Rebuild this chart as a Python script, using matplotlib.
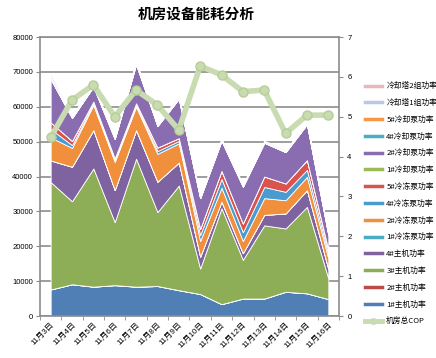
import matplotlib
matplotlib.use('Agg')
import matplotlib.pyplot as plt
from matplotlib.lines import Line2D
import numpy as np

plt.rcParams['font.family'] = ['Liberation Sans', 'Noto Sans CJK SC', 'DejaVu Sans']

dates = ['11月3日', '11月4日', '11月5日', '11月6日', '11月7日', '11月8日', '11月9日',
         '11月10日', '11月11日', '11月12日', '11月13日', '11月14日', '11月15日', '11月16日']

# power of each device, stacked bottom to top
chiller1 = [7600, 9100, 8400, 8850, 8400, 8600, 7400, 6300, 3400, 5000, 5000, 6950, 6500, 4850]
chiller2 = [0] * 14
chiller3 = [30800, 23800, 33900, 18050, 36700, 21200, 30000, 7300, 27500, 11100, 21000, 18150, 24800, 5950]
chiller4 = [6200, 9900, 11000, 9200, 8200, 8700, 6600, 3400, 1900, 1900, 3000, 4300, 4800, 2700]
chw_pump1 = [0] * 14
chw_pump2 = [6600, 5400, 7200, 8100, 6700, 8000, 5500, 4500, 4000, 3500, 4800, 3800, 3800, 3000]
chw_pump4 = [2400, 800, 500, 500, 500, 800, 700, 1700, 2500, 2500, 3200, 2400, 2000, 1200]
chw_pump5 = [1900, 1200, 500, 500, 500, 1000, 800, 1800, 2300, 2500, 3000, 2400, 2800, 1300]
cw_pump1 = [0] * 14
cw_pump2 = [12500, 6600, 4300, 5600, 11200, 6200, 11300, 8800, 8700, 10600, 9700, 9000, 10300, 4300]
cw_pump4 = [0] * 14
cw_pump5 = [0] * 14
tower1 = [700, 400, 350, 350, 500, 400, 450, 350, 300, 350, 300, 300, 350, 350]
tower2 = [700, 400, 350, 350, 500, 400, 450, 350, 300, 350, 300, 300, 350, 350]

cop = [4.48, 5.42, 5.80, 5.00, 5.67, 5.29, 4.67, 6.27, 6.05, 5.63, 5.67, 4.58, 5.04, 5.04]

layers = [chiller1, chiller2, chiller3, chiller4, chw_pump1, chw_pump2, chw_pump4, chw_pump5,
          cw_pump1, cw_pump2, cw_pump4, cw_pump5, tower1, tower2]
names = ['1#主机功率', '2#主机功率', '3#主机功率', '4#主机功率', '1#冷冻泵功率', '2#冷冻泵功率',
         '4#冷冻泵功率', '5#冷冻泵功率', '1#冷却泵功率', '2#冷却泵功率', '4#冷却泵功率',
         '5#冷却泵功率', '冷却塔1组功率', '冷却塔2组功率']
colors = ['#4f7fb5', '#be4b48', '#8ead57', '#7f63a1', '#4aacc5', '#f08f3c',
          '#4a9bd0', '#d9534f', '#9bbb59', '#8a6cb0', '#4bacc6', '#f79646', '#b9c9e3', '#e6b9b8']

grey = '#8c8c8c'

fig = plt.figure(figsize=(4.36, 3.58), dpi=100)
ax = fig.add_axes([0.0917, 0.1173, 0.6858, 0.7793])
x = np.arange(len(dates))

ax.stackplot(x, *layers, colors=colors, edgecolor='white', linewidth=0.6)
ax.set_xlim(-0.5, len(dates) - 0.5)
ax.set_ylim(0, 80000)
ax.set_yticks(range(0, 80001, 10000))
ax.yaxis.grid(True, color=grey, linewidth=1.2)
ax.set_axisbelow(True)
ax.tick_params(axis='y', labelsize=5.5, length=3, color=grey, pad=2)
ax.set_xticks(x)
ax.set_xticklabels(dates, rotation=45, ha='right', rotation_mode='anchor', fontsize=5.8)
ax.tick_params(axis='x', length=0, pad=4)
ax.set_xticks(np.arange(-0.5, len(dates)), minor=True)
ax.tick_params(axis='x', which='minor', length=3, color=grey)
for s in ax.spines.values():
    s.set_color(grey)
    s.set_linewidth(1.2)

ax2 = ax.twinx()
ax2.plot(x, cop, color='#c9dbb0', linewidth=4, marker='o', markersize=6.5,
         markerfacecolor='#c9dbb0', markeredgecolor='#b7cd98')
ax2.set_ylim(0, 7)
ax2.set_yticks(range(0, 8))
ax2.tick_params(axis='y', labelsize=5.5, length=3, color=grey, pad=3)
for s in ax2.spines.values():
    s.set_visible(False)

fig.suptitle('机房设备能耗分析', x=0.45, y=0.985, fontsize=10.5, fontweight='bold',
             family=['Noto Sans CJK SC', 'DejaVu Sans'])

handles = [Line2D([], [], color=c, linewidth=2.5) for c in colors[::-1]]
handles.append(Line2D([], [], color='#c9dbb0', linewidth=3.5, marker='o', markersize=4))
labels = names[::-1] + ['机房总COP']
fig.legend(handles, labels, loc='upper left', bbox_to_anchor=(0.82, 0.79), frameon=False,
           handlelength=2.2, labelspacing=1.12, handletextpad=0.6,
           prop={'family': ['Noto Sans CJK SC', 'DejaVu Sans'], 'size': 5.6})

fig.savefig('out.png', dpi=100)
